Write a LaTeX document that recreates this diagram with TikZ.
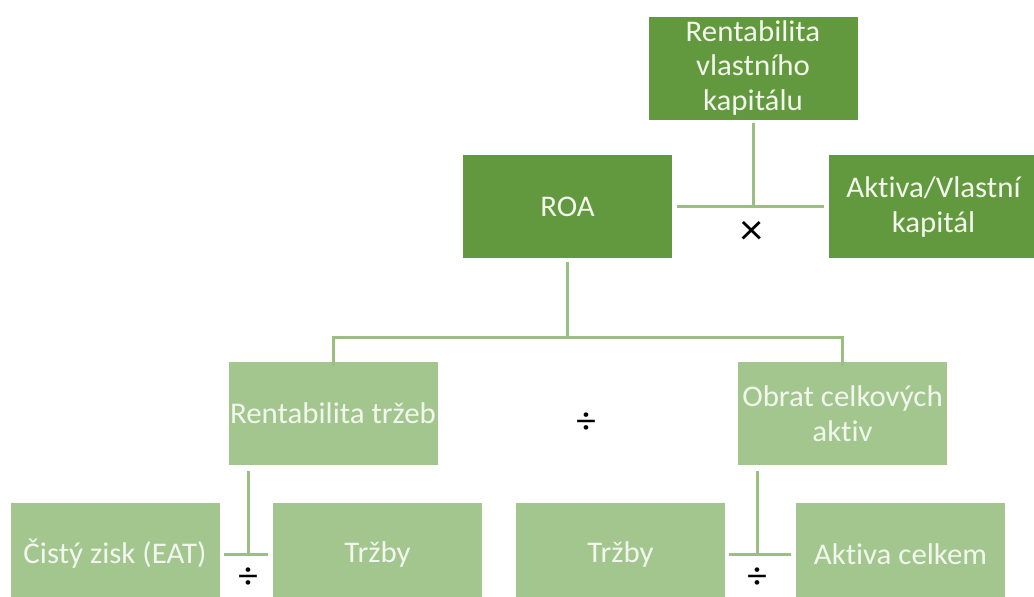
\documentclass[tikz,border=0pt]{standalone}
\usepackage{fontspec}
\setmainfont{Carlito}[FakeStretch=1.03, Ligatures={NoCommon,NoContextual}]
\definecolor{dkgreen}{RGB}{99,153,62}
\definecolor{ltgreen}{RGB}{163,198,142}
\definecolor{lnk}{RGB}{155,190,130}
\definecolor{dktext}{RGB}{242,246,236}
\definecolor{lttext}{RGB}{242,247,238}
\begin{document}
\begin{tikzpicture}[x=1pt,y=-1pt,
  boxbase/.style={rectangle, inner sep=0pt, minimum width=209pt, minimum height=103pt, align=center,
    font=\fontsize{30}{35}\selectfont},
  darkbox/.style={boxbase, fill=dkgreen, text=dktext},
  lightbox/.style={boxbase, fill=ltgreen, text=lttext},
  conn/.style={draw=lnk, line width=3pt},
  opsym/.style={inner sep=0pt, text=black, font=\fontsize{44}{44}\selectfont},
  divsym/.style={inner sep=0pt, text=black, font=\fontsize{38}{38}\selectfont}]
\useasboundingbox (0,0) rectangle (1034,597);
% dark boxes
\node[darkbox] (top) at (753,68) {Rentabilita\\vlastního\\kapitálu};
\node[darkbox] (roa) at (567.5,206.5) {ROA};
\node[darkbox] (akt) at (933.5,206.5) {Aktiva/Vlastní\\kapitál};
% light boxes
\node[lightbox] (rt) at (333,413) {Rentabilita tržeb};
\node[lightbox] (oca) at (842.5,413.5) {Obrat celkových\\aktiv};
\node[lightbox] (cz) at (115,554) {Čistý zisk (EAT)};
\node[lightbox] (tr1) at (377.5,554) {Tržby};
\node[lightbox] (tr2) at (620.5,554) {Tržby};
\node[lightbox] (ac) at (900.5,554) {Aktiva celkem};
% connectors top
\draw[conn] ([yshift=-3pt]top.south) -- (top.south |- roa.east);
\draw[conn] ([xshift=5pt]roa.east) -- ([xshift=-5pt]akt.west);
\node[opsym] (mul) at (752,233) {×};
% ROA to second level
\coordinate (hl) at (333,337);
\coordinate (hr) at (842.5,337);
\draw[conn] ([yshift=-4pt]roa.south) -- (roa.south |- hl);
\draw[conn] ([yshift=-5pt]rt.north) -- (hl) -- (hr) -- ([yshift=-4pt]oca.north);
\node[divsym] (div0) at (586,423) {÷};
% bottom left
\coordinate (bl) at ([xshift=20pt,yshift=-6pt]rt.south west);
\draw[conn] (bl) -- (bl |- cz.east);
\draw[conn] ([xshift=4pt]cz.east) -- ([xshift=-5pt]tr1.west);
\node[divsym] (div1) at (248,578) {÷};
% bottom right
\coordinate (br) at ([xshift=20pt,yshift=-6pt]oca.south west);
\draw[conn] (br) -- (br |- tr2.east);
\draw[conn] ([xshift=4pt]tr2.east) -- ([xshift=-5pt]ac.west);
\node[divsym] (div2) at (757,578) {÷};
\end{tikzpicture}
\end{document}
